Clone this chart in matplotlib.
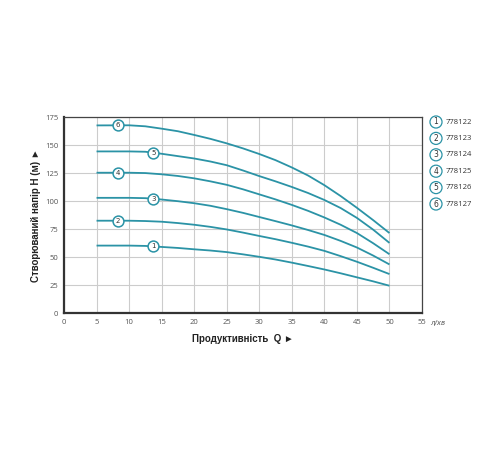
import matplotlib
matplotlib.use("Agg")
import matplotlib.pyplot as plt

# flow Q (l/min) and head H (m) for each pump model, read every 2.5 l/min
q = [5, 10, 12.5, 15, 17.5, 20, 22.5, 25, 27.5, 30, 32.5, 35, 37.5, 40, 42.5, 45, 47.5, 50]
h_778122 = [60.3, 60.3, 60.0, 59.1, 58.2, 57.0, 55.9, 54.5, 52.5, 50.3, 47.9, 45.1,
            42.1, 39.0, 35.6, 32.0, 28.4, 24.5]
h_778123 = [82.5, 82.5, 82.2, 81.6, 80.4, 78.9, 77.0, 74.7, 71.9, 68.9, 66.0, 62.8,
            59.4, 55.6, 50.9, 45.9, 40.5, 34.9]
h_778124 = [102.9, 102.9, 102.6, 101.4, 99.9, 98.1, 95.8, 92.8, 89.5, 85.8, 82.1, 78.3,
            74.2, 69.8, 64.5, 58.6, 51.4, 43.5]
h_778125 = [125.3, 125.3, 125.0, 123.9, 122.4, 120.3, 117.6, 114.5, 110.5, 106.0, 101.5,
            96.6, 91.3, 85.4, 78.9, 71.5, 62.4, 52.6]
h_778126 = [144.3, 144.3, 144.0, 142.2, 140.1, 138.0, 135.3, 132.0, 127.3, 122.3, 117.6,
            112.6, 107.2, 101.0, 93.8, 85.0, 74.5, 62.7]
h_778127 = [167.5, 167.6, 166.7, 164.6, 162.3, 159.0, 155.5, 151.5, 147.0, 142.0, 136.5,
            130.0, 122.8, 114.2, 104.5, 94.0, 83.0, 71.5]

models = ["778122", "778123", "778124", "778125", "778126", "778127"]
curves = [h_778122, h_778123, h_778124, h_778125, h_778126, h_778127]
label_q = [13.7, 8.3, 13.7, 8.3, 13.7, 8.3]

x_ticks = list(range(0, 56, 5))
y_ticks = list(range(0, 176, 25))

teal = "#2b93a6"
tick_color = "#555555"


def head_at(qs, hs, qq):
    for j in range(len(qs) - 1):
        if qs[j] <= qq <= qs[j + 1]:
            t = (qq - qs[j]) / (qs[j + 1] - qs[j])
            return hs[j] + t * (hs[j + 1] - hs[j])
    return hs[-1]


fig = plt.figure(figsize=(5, 4.5), dpi=100)
ax = fig.add_axes([0.128, 0.304, 0.716, 0.436])

for i, (hh, qq) in enumerate(zip(curves, label_q)):
    ax.plot(q, hh, color=teal, lw=1.3, solid_capstyle="butt", solid_joinstyle="round", zorder=3)
    hy = head_at(q, hh, qq)
    ax.plot([qq], [hy], marker="o", ms=7.8, mfc="white", mec=teal, mew=1.1, zorder=4)
    ax.text(qq, hy, str(i + 1), ha="center", va="center", fontsize=5,
            color="#333333", zorder=5, family="DejaVu Sans")

ax.set_xlim(0, 55)
ax.set_ylim(0, 175)
ax.set_xticks(x_ticks)
ax.set_yticks(y_ticks)
ax.grid(True, color="#cccccc", lw=0.8)
ax.set_axisbelow(True)
ax.tick_params(length=0, labelsize=5.5, colors=tick_color, pad=4)
for lab in ax.get_xticklabels() + ax.get_yticklabels():
    lab.set_family("Open Sans")
for side in ["left", "bottom"]:
    ax.spines[side].set_linewidth(1.6)
    ax.spines[side].set_color("#333333")
for side in ["top", "right"]:
    ax.spines[side].set_linewidth(0.9)
    ax.spines[side].set_color("#444444")

ax.text(56.2, -9, "л/хв", fontsize=5, style="italic", color=tick_color,
        ha="left", va="center", clip_on=False)

ax.set_xlabel("Продуктивність  Q ►", fontsize=7, fontweight="bold",
              family="Liberation Sans", labelpad=6, color="#222222")
ax.set_ylabel("Створюваний напір H (м) ►", fontsize=7, fontweight="bold",
              family="Liberation Sans", labelpad=3, color="#222222")

# legend on the right
for i, m in enumerate(models):
    y = 1 - 122 / 450 - i * 16.4 / 450
    fig.text(436 / 500, y, str(i + 1), ha="center", va="center", fontsize=5.5,
             color="#333333",
             bbox=dict(boxstyle="circle,pad=0.2", fc="white", ec=teal, lw=0.9))
    fig.text(446 / 500, y, m, ha="left", va="center", fontsize=5.5,
             color="#333333", family="Open Sans")

fig.savefig("out.png", dpi=100)
